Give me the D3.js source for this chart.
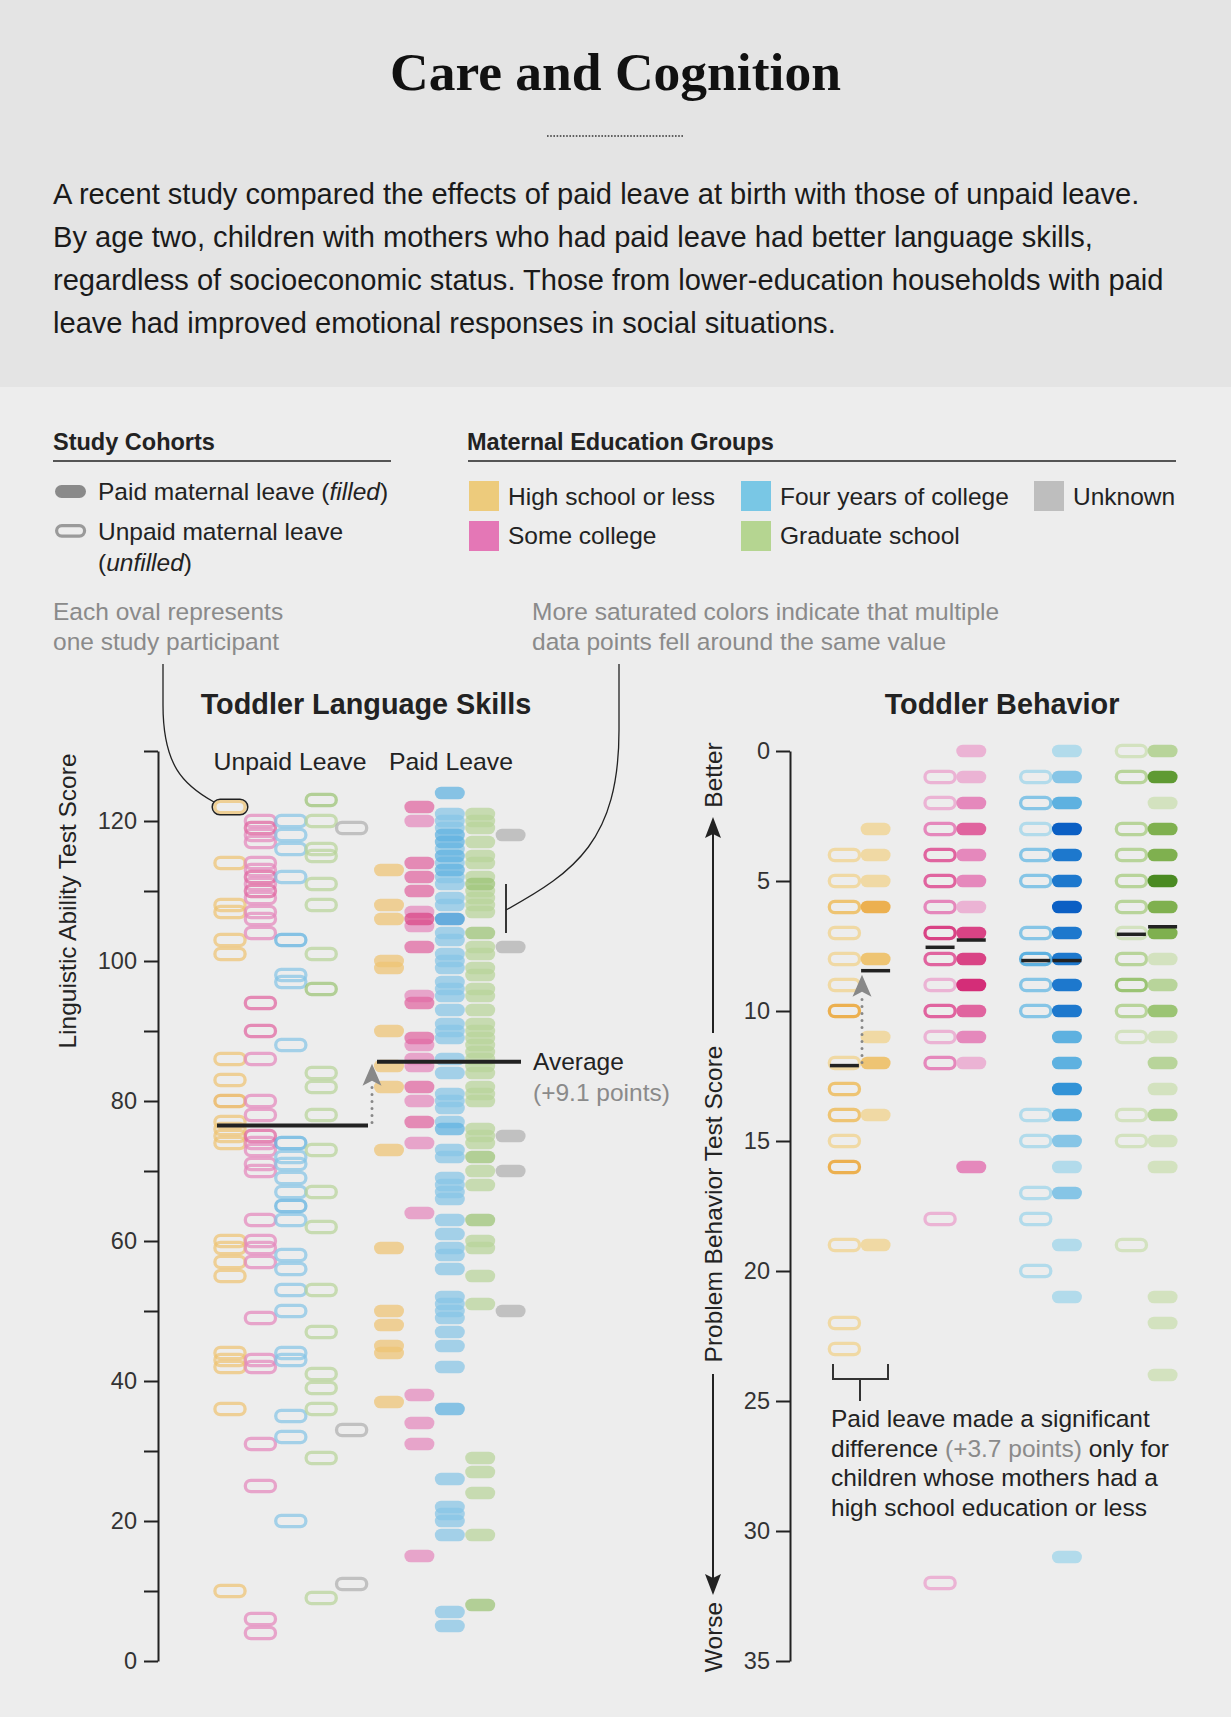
<!DOCTYPE html>
<html><head><meta charset="utf-8">
<script src="https://cdn.jsdelivr.net/npm/d3@7"></script>
<style>
body{margin:0;background:#ededed;}
svg{display:block;font-family:"Liberation Sans",Arial,Helvetica,sans-serif;}
</style></head><body>
<svg id="chart" width="1231" height="1717"></svg>
<script>
// ---------------- DATA ----------------
const groups = ["hs","some","four","grad","unk"];
const groupLabels = ["High school or less","Some college","Four years of college","Graduate school","Unknown"];
const cohortLabels = ["Paid maternal leave","Unpaid maternal leave"];

// Toddler Language Skills (Linguistic Ability Test Score), one value per participant
const langUnpaidHS   = [122,114,108,107,103,101,86,83,80,80,77,76,75,74,60,59,57,55,44,43,42,36,10];
const langUnpaidSome = [120,119,119,118,117,114,113,112,112,111,110,110,109,107,106,104,94,94,90,90,86,80,78,75,75,74,73,71,70,63,60,59,57,49,43,42,31,25,6,4];
const langUnpaidFour = [120,118,116,112,103,103,98,97,88,74,74,72,71,69,67,65,65,63,58,56,53,50,44,43,35,32,20];
const langUnpaidGrad = [123,123,120,116,115,111,108,101,96,96,84,82,78,73,67,62,53,47,41,39,36,29,9];
const langUnpaidUnk  = [119,33,11];
const langPaidHS   = [113,108,106,100,99,90,85,82,73,59,50,48,45,44,37];
const langPaidSome = [122,122,120,114,114,112,112,110,110,107,106,106,106,105,102,102,95,94,94,89,89,88,86,85,82,82,80,77,77,74,64,38,34,31,15];
const langPaidFour = [124,124,121,120,119,118,118,117,117,116,115,115,114,113,113,112,111,109,108,106,106,106,104,103,101,100,99,97,96,95,93,91,90,89,86,84,81,80,79,77,76,76,73,72,69,68,67,66,63,61,59,58,56,52,51,50,49,47,45,42,36,36,26,22,21,20,18,7,5];
const langPaidGrad = [121,120,119,117,115,114,112,111,111,110,109,108,107,104,104,102,101,99,98,96,95,93,91,90,89,88,87,86,85,84,82,81,80,76,75,74,72,72,70,68,63,63,60,59,55,51,29,27,24,18,8,8];
const langPaidUnk  = [118,102,75,70,50];
const langAvg = [76.5, 85.6];            // unpaid, paid
const langTicks = [0,10,20,30,40,50,60,70,80,90,100,110,120,130];

// Toddler Behavior (Problem Behavior Test Score)
const behUnpaidHS   = [4,5,6,6,7,8,9,10,10,10,12,13,13,14,14,15,16,16,16,19,22,23];
const behPaidHS     = [3,4,5,6,6,6,8,8,11,12,12,14,19];
const behUnpaidSome = [1,2,3,3,4,4,4,5,5,5,6,6,7,7,7,7,8,8,8,9,10,10,10,11,12,12,18,32];
const behPaidSome   = [0,1,2,2,3,3,3,4,4,5,5,6,7,7,7,7,8,8,8,8,9,9,9,9,9,10,10,10,11,11,12,16,16];
const behUnpaidFour = [1,2,2,3,4,4,5,5,7,7,8,8,8,9,9,10,10,14,15,17,18,20];
const behPaidFour   = [0,1,1,2,2,2,3,3,3,3,3,3,4,4,4,4,4,5,5,5,5,5,6,6,6,6,6,6,7,7,7,7,7,8,8,8,8,8,9,9,9,9,9,10,10,10,10,10,11,11,11,12,12,12,13,13,13,13,14,14,14,15,15,16,17,17,19,21,31];
const behUnpaidGrad = [0,1,1,3,3,4,4,5,5,6,6,7,8,8,9,9,9,10,10,11,14,15,19];
const behPaidGrad   = [0,0,1,1,1,1,1,2,3,3,3,3,4,4,4,4,5,5,5,5,5,5,6,6,6,6,7,7,7,7,8,9,9,10,10,10,11,12,12,13,14,14,15,16,21,22,24];
const behAvgUnpaid = [12.1, 7.55, 8.06, 7.05];
const behAvgPaid   = [8.45, 7.27, 8.06, 6.76];
const behTicks = [0,5,10,15,20,25,30,35];

const introLines = [
  "A recent study compared the effects of paid leave at birth with those of unpaid leave.",
  "By age two, children with mothers who had paid leave had better language skills,",
  "regardless of socioeconomic status. Those from lower-education households with paid",
  "leave had improved emotional responses in social situations."
];

// ---------------- STYLE ----------------
const swatch = {hs:"#edcb7c", some:"#e477b6", four:"#79c7e5", grad:"#b5d591", unk:"#bebebe"};
const ramps = {
  hs:   ["#f0d9a4","#eec473","#ecb050","#e99c30","#e68f1c","#e08510","#d87a08"],
  some: ["#ebb3d4","#e588bc","#e0649f","#d94385","#d42d78","#cc1f68","#c0175c"],
  four: ["#b2dbeb","#86c5e6","#5eb1e0","#3293d7","#1d78cd","#0b5fc4","#0a55b0"],
  grad: ["#d3e2bf","#b8d49a","#9bc474","#7fb04f","#5f9a33","#4a8a22","#3f7a1c"],
  unk:  ["#c6c6c6","#b0b0b0","#9a9a9a","#888","#777","#666","#555"]
};
const colorFor = (g, n) => ramps[g][Math.min(n,7)-1];
const FONT = '"Liberation Sans",Arial,Helvetica,sans-serif';

const svg = d3.select("#chart");
svg.append("rect").attr("width",1231).attr("height",1717).attr("fill","#ededed");
svg.append("rect").attr("width",1231).attr("height",387).attr("fill","#e4e4e4");

function txt(sel, x, y, s, o = {}) {
  return sel.append("text").attr("x", x).attr("y", y).text(s)
    .attr("font-size", o.size || 25).attr("fill", o.fill || "#222")
    .attr("font-weight", o.weight || "normal")
    .attr("text-anchor", o.anchor || "start")
    .attr("font-family", o.family || FONT);
}

// ---------------- HEADER ----------------
txt(svg, 615.5, 90, "Care and Cognition", {size:53.5, weight:"bold", anchor:"middle", family:'"Liberation Serif","Times New Roman",serif', fill:"#111"});
svg.append("line").attr("x1",547).attr("x2",684).attr("y1",136).attr("y2",136)
  .attr("stroke","#333").attr("stroke-width",1.6).attr("stroke-dasharray","1.6,1.6");
introLines.forEach((l,i)=> txt(svg, 53, 203.5 + i*43.2, l, {size:29.1, fill:"#1a1a1a"}));

// ---------------- LEGEND ----------------
txt(svg, 53, 450, "Study Cohorts", {size:23.5, weight:"bold"});
svg.append("line").attr("x1",53).attr("x2",391).attr("y1",461).attr("y2",461).attr("stroke","#555").attr("stroke-width",2.2);
txt(svg, 467, 450, "Maternal Education Groups", {size:23.5, weight:"bold"});
svg.append("line").attr("x1",468).attr("x2",1176).attr("y1",461).attr("y2",461).attr("stroke","#555").attr("stroke-width",2.2);

svg.append("rect").attr("x",55).attr("y",485).attr("width",31).attr("height",13).attr("rx",6.5).attr("fill","#8a8a8a");
const t1 = txt(svg, 98, 500, cohortLabels[0] + " (", {size:24.5});
t1.append("tspan").attr("font-style","italic").text("filled");
t1.append("tspan").text(")");
svg.append("rect").attr("x",56.6).attr("y",525.6).attr("width",28).attr("height",10.5).attr("rx",5.25)
  .attr("fill","none").attr("stroke","#9a9a9a").attr("stroke-width",3.2);
txt(svg, 98, 540, cohortLabels[1], {size:24.5});
const t2 = txt(svg, 98, 571, "(", {size:24.5});
t2.append("tspan").attr("font-style","italic").text("unfilled");
t2.append("tspan").text(")");

const legPos = [[469,481,508],[469,521,508],[741,481,780],[741,521,780],[1034,481,1073]];
const legRow = [0,1,0,1,0];
groups.forEach((g,i)=>{
  const [sx,sy,tx] = legPos[i];
  svg.append("rect").attr("x",sx).attr("y",sy).attr("width",30).attr("height",30).attr("fill",swatch[g]);
  txt(svg, tx, legRow[i] ? 544 : 505, groupLabels[i], {size:24.5});
});

txt(svg, 53, 620, "Each oval represents", {size:24.5, fill:"#8a8a8a"});
txt(svg, 53, 650, "one study participant", {size:24.5, fill:"#8a8a8a"});
txt(svg, 532, 620, "More saturated colors indicate that multiple", {size:24.5, fill:"#8a8a8a"});
txt(svg, 532, 650, "data points fell around the same value", {size:24.5, fill:"#8a8a8a"});

// ---------------- MARK HELPER ----------------
const FW = 30, FH = 12.6, UW = 30.2, UH = 11.2, USW = 3.3;
function drawMarks(g, values, grp, paid, xc, yScale, op, shift) {
  const counts = d3.rollups(values, v => v.length, d => d).sort((a,b)=>a[1]-b[1]);
  const sel = g.append("g").selectAll("rect").data(counts).join("rect")
    .attr("opacity", op);
  if (paid) {
    sel.attr("x", xc - FW/2).attr("y", d => yScale(d[0]) - FH/2)
      .attr("width", FW).attr("height", FH).attr("rx", FH/2)
      .attr("fill", d => colorFor(grp, d[1] + shift));
  } else {
    sel.attr("x", xc - UW/2).attr("y", d => yScale(d[0]) - UH/2)
      .attr("width", UW).attr("height", UH).attr("rx", UH/2)
      .attr("fill", "none").attr("stroke-width", USW)
      .attr("stroke", d => colorFor(grp, d[1] + shift));
  }
}
function styleAxis(ax) {
  ax.select(".domain").attr("stroke","#222").attr("stroke-width",2);
  ax.selectAll(".tick line").attr("stroke","#222").attr("stroke-width",2);
  ax.selectAll(".tick text").attr("font-size",23.5).attr("fill","#333").attr("font-family",FONT);
}

// ---------------- LEFT CHART ----------------
const yL = d3.scaleLinear().domain([0,130]).range([1661,751]);
const xL = d3.scalePoint().domain(groups).range([230,351.6]);
const PAID_SHIFT = 159;
const left = svg.append("g");
txt(left, 366, 714, "Toddler Language Skills", {size:28.8, weight:"bold", anchor:"middle"});
txt(left, 290, 770, "Unpaid Leave", {size:24.8, anchor:"middle"});
txt(left, 451, 770, "Paid Leave", {size:24.8, anchor:"middle"});

const axL = left.append("g").attr("transform","translate(158,0)")
  .call(d3.axisLeft(yL).tickValues(langTicks).tickFormat(d => d%20===0 ? d : "")
        .tickSize(14).tickSizeOuter(0).tickPadding(7));
styleAxis(axL);
txt(left, 0, 0, "Linguistic Ability Test Score", {size:24.5, anchor:"middle"})
  .attr("transform","translate(76,901) rotate(-90)");

const langUnpaid = [langUnpaidHS,langUnpaidSome,langUnpaidFour,langUnpaidGrad,langUnpaidUnk];
const langPaid = [langPaidHS,langPaidSome,langPaidFour,langPaidGrad,langPaidUnk];
groups.forEach((g,i)=>{
  drawMarks(left, langUnpaid[i], g, false, xL(g), yL, 0.72, 1);
  drawMarks(left, langPaid[i], g, true, xL(g)+PAID_SHIFT, yL, 0.72, 1);
});
// highlighted example oval
left.append("rect").attr("x",xL("hs")-17.8).attr("y",yL(langUnpaidHS[0])-7.8).attr("width",35.6).attr("height",15.6)
  .attr("rx",7.8).attr("fill","none").attr("stroke","#222").attr("stroke-width",1.5);

// averages
left.append("line").attr("x1",217).attr("x2",368).attr("y1",yL(langAvg[0])).attr("y2",yL(langAvg[0]))
  .attr("stroke","#222").attr("stroke-width",4);
left.append("line").attr("x1",377).attr("x2",521).attr("y1",yL(langAvg[1])).attr("y2",yL(langAvg[1]))
  .attr("stroke","#222").attr("stroke-width",4);
function grayArrow(g, x, yFrom, yTip) {
  g.append("line").attr("x1",x).attr("x2",x).attr("y1",yFrom-3).attr("y2",yTip+22)
    .attr("stroke","#888").attr("stroke-width",3).attr("stroke-linecap","round").attr("stroke-dasharray","0,7");
  g.append("path").attr("d",`M${x},${yTip} L${x+9.5},${yTip+22} L${x},${yTip+17} L${x-9.5},${yTip+22}Z`).attr("fill","#888");
}
grayArrow(left, 372, yL(langAvg[0]), yL(langAvg[1]) + 2);
txt(left, 533, 1070, "Average", {size:24.5});
txt(left, 533, 1101, "(+9.1 points)", {size:24.5, fill:"#8a8a8a"});

// connectors
svg.append("path").attr("d","M163,664 L163,705 C163,765 183,785 214,802").attr("fill","none").attr("stroke","#222").attr("stroke-width",1.3);
svg.append("path").attr("d","M619,664 L619,730 C619,840 575,872 506,910").attr("fill","none").attr("stroke","#222").attr("stroke-width",1.3);
svg.append("line").attr("x1",506).attr("x2",506).attr("y1",884).attr("y2",933).attr("stroke","#222").attr("stroke-width",1.8);

// ---------------- RIGHT CHART ----------------
const yR = d3.scaleLinear().domain([0,35]).range([751,1661]);
const xR = d3.scalePoint().domain(groups.slice(0,4)).range([860,1147]);
const PAIR = 15.6;
const right = svg.append("g");
txt(right, 1002, 714, "Toddler Behavior", {size:28.8, weight:"bold", anchor:"middle"});
const axR = right.append("g").attr("transform","translate(790,0)")
  .call(d3.axisLeft(yR).tickValues(behTicks).tickSize(14).tickSizeOuter(0).tickPadding(6));
styleAxis(axR);
txt(right, 0, 0, "Problem Behavior Test Score", {size:24.5, anchor:"middle"}).attr("transform","translate(722,1204) rotate(-90)");
txt(right, 0, 0, "Better", {size:24.5, anchor:"middle"}).attr("transform","translate(722,775) rotate(-90)");
txt(right, 0, 0, "Worse", {size:24.5, anchor:"middle"}).attr("transform","translate(722,1637) rotate(-90)");
right.append("line").attr("x1",713).attr("x2",713).attr("y1",1033).attr("y2",832).attr("stroke","#222").attr("stroke-width",2);
right.append("path").attr("d","M713,817 L721,838 L713,834 L705,838Z").attr("fill","#222");
right.append("line").attr("x1",713).attr("x2",713).attr("y1",1374).attr("y2",1580).attr("stroke","#222").attr("stroke-width",2);
right.append("path").attr("d","M713,1595 L721,1574 L713,1578 L705,1574Z").attr("fill","#222");

const behUnpaid = [behUnpaidHS,behUnpaidSome,behUnpaidFour,behUnpaidGrad];
const behPaid = [behPaidHS,behPaidSome,behPaidFour,behPaidGrad];
groups.slice(0,4).forEach((g,i)=>{
  drawMarks(right, behUnpaid[i], g, false, xR(g)-PAIR, yR, 1, 0);
  drawMarks(right, behPaid[i], g, true, xR(g)+PAIR, yR, 1, 0);
});
groups.slice(0,4).forEach((g,i)=>{
  [[behAvgUnpaid[i], -PAIR],[behAvgPaid[i], PAIR]].forEach(([v,off])=>{
    right.append("line").attr("x1",xR(g)+off-14.5).attr("x2",xR(g)+off+14.5)
      .attr("y1",yR(v)).attr("y2",yR(v)).attr("stroke","#222").attr("stroke-width",3.5);
  });
});
grayArrow(right, xR("hs")+2, yR(behAvgUnpaid[0]), yR(behAvgPaid[0]) + 4);

// bracket + annotation
right.append("path").attr("d","M833,1364 V1379 H888 V1364 M860,1379 V1401")
  .attr("fill","none").attr("stroke","#333").attr("stroke-width",2);
txt(right, 831, 1427, "Paid leave made a significant", {size:24.5});
const a2 = txt(right, 831, 1456.5, "difference ", {size:24.5});
a2.append("tspan").attr("fill","#8a8a8a").text("(+3.7 points)");
a2.append("tspan").text(" only for");
txt(right, 831, 1486, "children whose mothers had a", {size:24.5});
txt(right, 831, 1515.5, "high school education or less", {size:24.5});
</script>
</body></html>
